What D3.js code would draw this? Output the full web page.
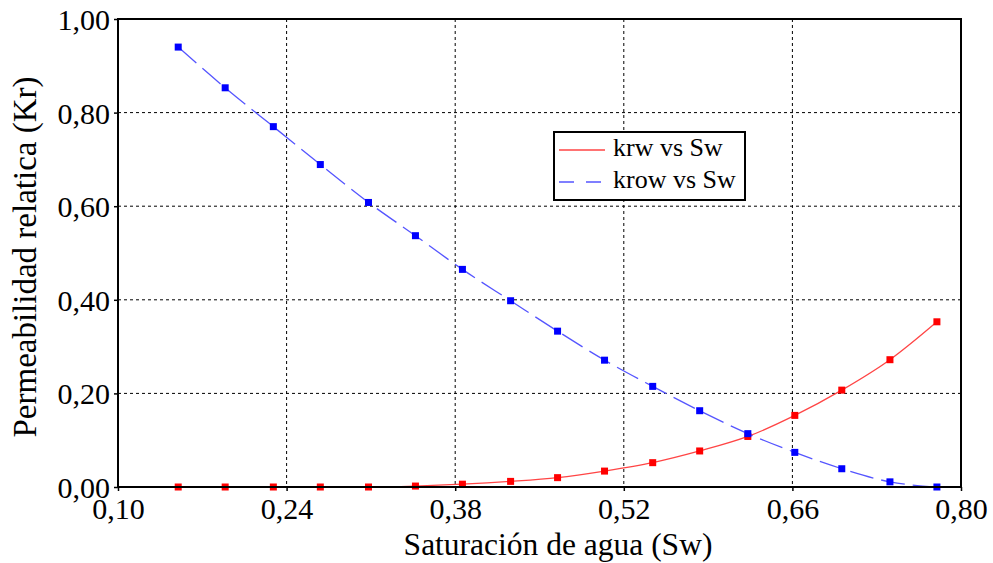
<!DOCTYPE html>
<html>
<head>
<meta charset="utf-8">
<script src="https://cdn.jsdelivr.net/npm/d3@7"></script>
<style>
  html, body { margin: 0; padding: 0; background: #fff; }
  svg { display: block; }
</style>
</head>
<body>
<svg id="chart" width="993" height="563"></svg>
<script>
// Water saturation samples (Sw) and relative permeabilities
const sw = [0.150, 0.189, 0.229, 0.268, 0.308, 0.347, 0.386, 0.426, 0.465,
            0.504, 0.544, 0.583, 0.623, 0.662, 0.701, 0.741, 0.780];
const krw = [0.000, 0.000, 0.000, 0.000, 0.000, 0.002, 0.006, 0.012, 0.020,
             0.034, 0.052, 0.077, 0.108, 0.153, 0.207, 0.272, 0.353];
const krow = [0.940, 0.853, 0.770, 0.689, 0.608, 0.537, 0.465, 0.398, 0.333,
              0.271, 0.215, 0.163, 0.114, 0.074, 0.039, 0.011, 0.000];

const xTicks = [0.10, 0.24, 0.38, 0.52, 0.66, 0.80];
const yTicks = [0.00, 0.20, 0.40, 0.60, 0.80, 1.00];
const seriesNames = ["krw vs Sw", "krow vs Sw"];

const FONT = "'Liberation Serif', 'Times New Roman', Times, serif";

const svg = d3.select("#chart").attr("font-family", FONT);
const m = { left: 118, right: 961, top: 19, bottom: 487 };

const x = d3.scaleLinear().domain([0.10, 0.80]).range([m.left, m.right]);
const y = d3.scaleLinear().domain([0.00, 1.00]).range([m.bottom, m.top]);
const fmt = v => d3.format(".2f")(v).replace(".", ",");

// Dashed grid at interior ticks
const grid = svg.append("g");
grid.selectAll("line.gx").data(xTicks.slice(1, -1)).join("line")
  .attr("x1", d => x(d)).attr("x2", d => x(d))
  .attr("y1", m.top).attr("y2", m.bottom)
  .attr("stroke", "#000").attr("stroke-width", 1).attr("stroke-dasharray", "3,3");
grid.selectAll("line.gy").data(yTicks.slice(1, -1)).join("line")
  .attr("x1", m.left).attr("x2", m.right)
  .attr("y1", d => y(d)).attr("y2", d => y(d))
  .attr("stroke", "#000").attr("stroke-width", 1).attr("stroke-dasharray", "3,3");

// Axes
const xAxis = svg.append("g").attr("transform", `translate(0,${m.bottom})`)
  .call(d3.axisBottom(x).tickValues(xTicks).tickFormat(fmt).tickSize(4).tickPadding(7));
const yAxis = svg.append("g").attr("transform", `translate(${m.left},0)`)
  .call(d3.axisLeft(y).tickValues(yTicks).tickFormat(fmt).tickSize(4).tickPadding(4));
[xAxis, yAxis].forEach(a => {
  a.attr("font-family", FONT).attr("font-size", 30);
  a.select(".domain").remove();
  a.selectAll(".tick line").attr("stroke", "#000").attr("stroke-width", 1.5);
  a.selectAll(".tick text").attr("font-family", FONT).attr("font-size", 30).attr("fill", "#000");
});
yAxis.selectAll(".tick text").attr("dy", "0.35em");
xAxis.selectAll(".tick text").attr("dy", "0.71em");

// Curves
const pts = (ys) => sw.map((v, i) => [v, ys[i]]);
const line = d3.line().x(d => x(d[0])).y(d => y(d[1])).curve(d3.curveMonotoneX);

svg.append("path").datum(pts(krw)).attr("d", line)
  .attr("fill", "none").attr("stroke", "#ff4545").attr("stroke-width", 1.3);
svg.append("path").datum(pts(krow)).attr("d", line)
  .attr("fill", "none").attr("stroke", "#5555ff").attr("stroke-width", 1.3)
  .attr("stroke-dasharray", "24,8");

const ms = 7;
svg.append("g").selectAll("rect").data(pts(krw)).join("rect")
  .attr("x", d => x(d[0]) - ms / 2).attr("y", d => y(d[1]) - ms / 2)
  .attr("width", ms).attr("height", ms).attr("fill", "#ff0000");
svg.append("g").selectAll("rect").data(pts(krow)).join("rect")
  .attr("x", d => x(d[0]) - ms / 2).attr("y", d => y(d[1]) - ms / 2)
  .attr("width", ms).attr("height", ms).attr("fill", "#0000ff");

// Plot frame
svg.append("rect").attr("x", m.left).attr("y", m.top)
  .attr("width", m.right - m.left).attr("height", m.bottom - m.top)
  .attr("fill", "none").attr("stroke", "#000").attr("stroke-width", 2);

// Axis titles
svg.append("text").attr("x", 558).attr("y", 555).attr("text-anchor", "middle")
  .attr("font-family", FONT).attr("font-size", 31.5).text("Saturación de agua (Sw)");
svg.append("text").attr("transform", "translate(36,257) rotate(-90)")
  .attr("text-anchor", "middle").attr("font-family", FONT).attr("font-size", 33)
  .text("Permeabilidad relatica (Kr)");

// Legend
const lg = svg.append("g");
lg.append("rect").attr("x", 554).attr("y", 132).attr("width", 191).attr("height", 68)
  .attr("fill", "#fff").attr("stroke", "#000").attr("stroke-width", 2);
const legendItems = [
  { name: seriesNames[0], color: "#ff4545", dash: null, yy: 150 },
  { name: seriesNames[1], color: "#5555ff", dash: "15,12", yy: 182 }
];
legendItems.forEach(it => {
  lg.append("line").attr("x1", 559).attr("x2", 605).attr("y1", it.yy).attr("y2", it.yy)
    .attr("stroke", it.color).attr("stroke-width", 1.3)
    .attr("stroke-dasharray", it.dash);
  lg.append("text").attr("x", 613).attr("y", it.yy + 6)
    .attr("font-family", FONT).attr("font-size", 26).text(it.name);
});
</script>
</body>
</html>
